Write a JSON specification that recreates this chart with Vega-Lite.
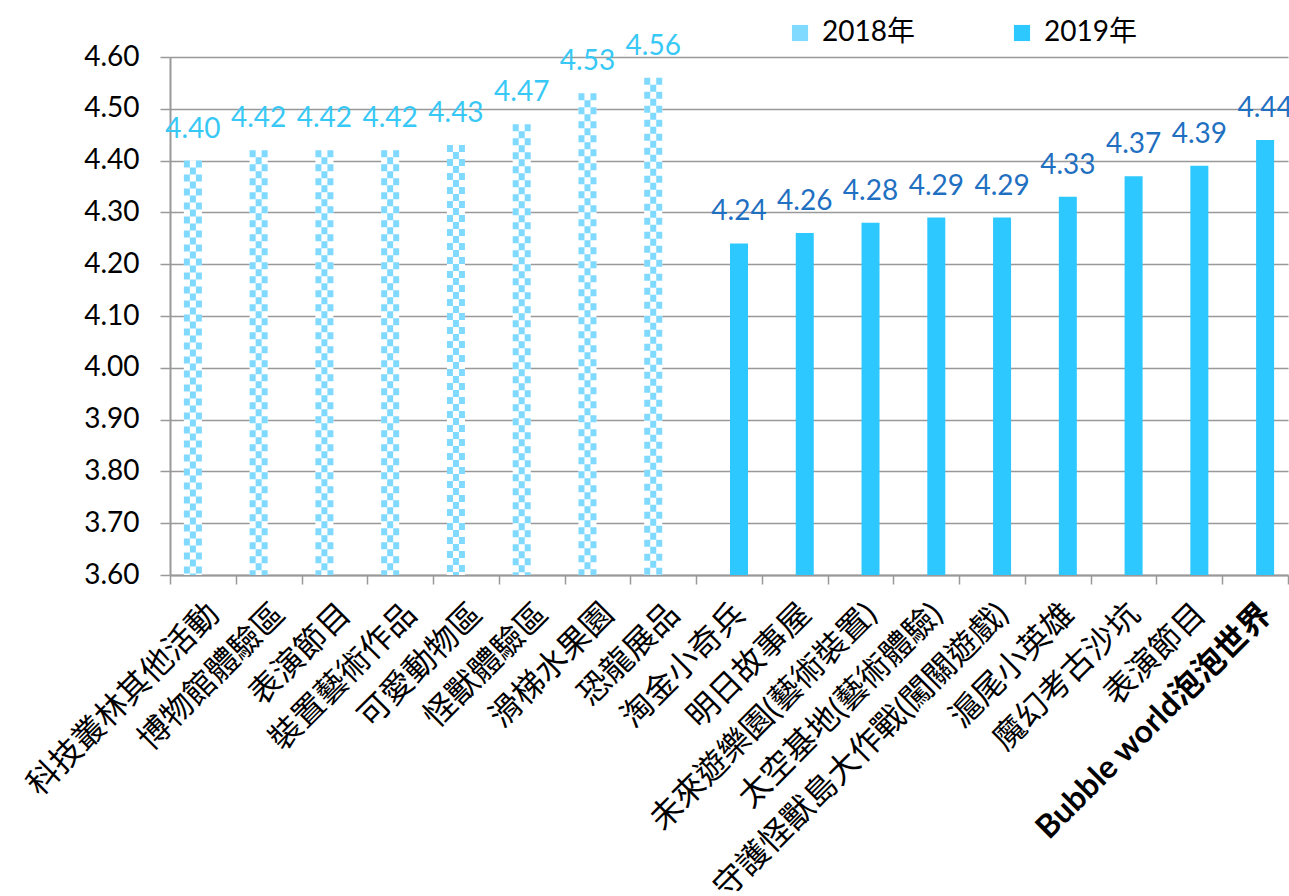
{
  "$schema": "https://vega.github.io/schema/vega-lite/v6.json",
  "autosize": {"type": "none"},
  "padding": {"left": 170, "top": 57, "right": 1, "bottom": 321},
  "width": 1118,
  "height": 518,
  "background": "white",
  "config": {
    "view": {"stroke": null},
    "font": "Lato",
    "axis": {"labelFont": "Lato, Noto Sans CJK TC", "labelColor": "#000000"}
  },
  "data": {
    "values": [
      {"i": 0, "name": "科技叢林其他活動", "year": "2018年", "v": 4.40},
      {"i": 1, "name": "博物館體驗區", "year": "2018年", "v": 4.42},
      {"i": 2, "name": "表演節目", "year": "2018年", "v": 4.42},
      {"i": 3, "name": "裝置藝術作品", "year": "2018年", "v": 4.42},
      {"i": 4, "name": "可愛動物區", "year": "2018年", "v": 4.43},
      {"i": 5, "name": "怪獸體驗區", "year": "2018年", "v": 4.47},
      {"i": 6, "name": "滑梯水果園", "year": "2018年", "v": 4.53},
      {"i": 7, "name": "恐龍展品", "year": "2018年", "v": 4.56},
      {"i": 8, "name": "淘金小奇兵", "year": "2019年", "v": 4.24},
      {"i": 9, "name": "明日故事屋", "year": "2019年", "v": 4.26},
      {"i": 10, "name": "未來遊樂園(藝術裝置)", "year": "2019年", "v": 4.28},
      {"i": 11, "name": "太空基地(藝術體驗)", "year": "2019年", "v": 4.29},
      {"i": 12, "name": "守護怪獸島大作戰(闖關遊戲)", "year": "2019年", "v": 4.29},
      {"i": 13, "name": "滬尾小英雄", "year": "2019年", "v": 4.33},
      {"i": 14, "name": "魔幻考古沙坑", "year": "2019年", "v": 4.37},
      {"i": 15, "name": "表演節目", "year": "2019年", "v": 4.39},
      {"i": 16, "name": "Bubble world泡泡世界", "year": "2019年", "v": 4.44}
    ]
  },
  "encoding": {
    "x": {
      "field": "i",
      "type": "ordinal",
      "scale": {"paddingInner": 0, "paddingOuter": 0},
      "axis": {
        "title": null,
        "labelAngle": -45,
        "labelFontSize": 32,
        "labelFontWeight": {"expr": "datum.value === 16 ? 'bold' : 'normal'"},
        "labelLimit": 600,
        "labelPadding": 14,
        "tickBand": "extent",
        "tickSize": 9,
        "tickColor": "#999999",
        "tickWidth": 1.5,
        "domainColor": "#999999",
        "domainWidth": 2,
        "labelExpr": "['科技叢林其他活動','博物館體驗區','表演節目','裝置藝術作品','可愛動物區','怪獸體驗區','滑梯水果園','恐龍展品','淘金小奇兵','明日故事屋','未來遊樂園(藝術裝置)','太空基地(藝術體驗)','守護怪獸島大作戰(闖關遊戲)','滬尾小英雄','魔幻考古沙坑','表演節目','Bubble world泡泡世界'][datum.value]"
      }
    },
    "y": {
      "field": "v",
      "type": "quantitative",
      "scale": {"domain": [3.6, 4.6], "nice": false, "zero": false},
      "axis": {
        "title": null,
        "values": [3.6, 3.7, 3.8, 3.9, 4.0, 4.1, 4.2, 4.3, 4.4, 4.5, 4.6],
        "format": ".2f",
        "labelFontSize": 28,
        "labelPadding": 21,
        "tickSize": 10,
        "tickColor": "#999999",
        "tickWidth": 1.5,
        "domainColor": "#999999",
        "domainWidth": 2,
        "grid": true,
        "gridColor": "#999999",
        "gridWidth": 1.5
      }
    }
  },
  "layer": [
    {
      "transform": [{"filter": "datum.year === '2018年'"}],
      "mark": {"type": "bar", "width": 18, "xOffset": -10, "fill": "white"},
      "encoding": {"y2": {"datum": 3.6}}
    },
    {
      "transform": [{"filter": "datum.year === '2018年'"}],
      "mark": {"type": "rule", "xOffset": -16, "strokeWidth": 6, "strokeDash": [7, 7], "strokeCap": "butt", "color": "#80D9FF"},
      "encoding": {"y2": {"datum": 3.6}}
    },
    {
      "transform": [{"filter": "datum.year === '2018年'"}],
      "mark": {"type": "rule", "xOffset": -10, "strokeWidth": 6, "strokeDash": [7, 7], "strokeDashOffset": 7, "strokeCap": "butt", "color": "#80D9FF"},
      "encoding": {"y2": {"datum": 3.6}}
    },
    {
      "transform": [{"filter": "datum.year === '2018年'"}],
      "mark": {"type": "rule", "xOffset": -4, "strokeWidth": 6, "strokeDash": [7, 7], "strokeCap": "butt", "color": "#80D9FF"},
      "encoding": {"y2": {"datum": 3.6}}
    },
    {
      "transform": [{"filter": "datum.year === '2019年'"}],
      "mark": {"type": "bar", "width": 18, "xOffset": 10},
      "encoding": {
        "y2": {"datum": 3.6},
        "color": {
          "field": "year",
          "type": "nominal",
          "scale": {"domain": ["2018年", "2019年"], "range": ["#80D9FF", "#2CC8FF"]},
          "legend": {
            "title": null,
            "orient": "none",
            "direction": "horizontal",
            "legendX": 616,
            "legendY": -38,
            "symbolType": "square",
            "symbolSize": 260,
            "symbolStrokeWidth": 0,
            "labelFontSize": 28,
            "labelFont": "Lato, Noto Sans CJK TC",
            "labelColor": "#000000",
            "labelOffset": 8,
            "columnPadding": 93,
            "padding": 0
          }
        }
      }
    },
    {
      "transform": [{"filter": "datum.year === '2018年'"}],
      "mark": {"type": "text", "xOffset": -10, "dy": -31, "baseline": "middle", "fontSize": 28, "color": "#38C8F5"},
      "encoding": {"text": {"field": "v", "type": "quantitative", "format": ".2f"}}
    },
    {
      "transform": [{"filter": "datum.year === '2019年'"}],
      "mark": {"type": "text", "xOffset": 10, "dy": -31, "baseline": "middle", "fontSize": 28, "color": "#1F70C1"},
      "encoding": {"text": {"field": "v", "type": "quantitative", "format": ".2f"}}
    }
  ]
}
